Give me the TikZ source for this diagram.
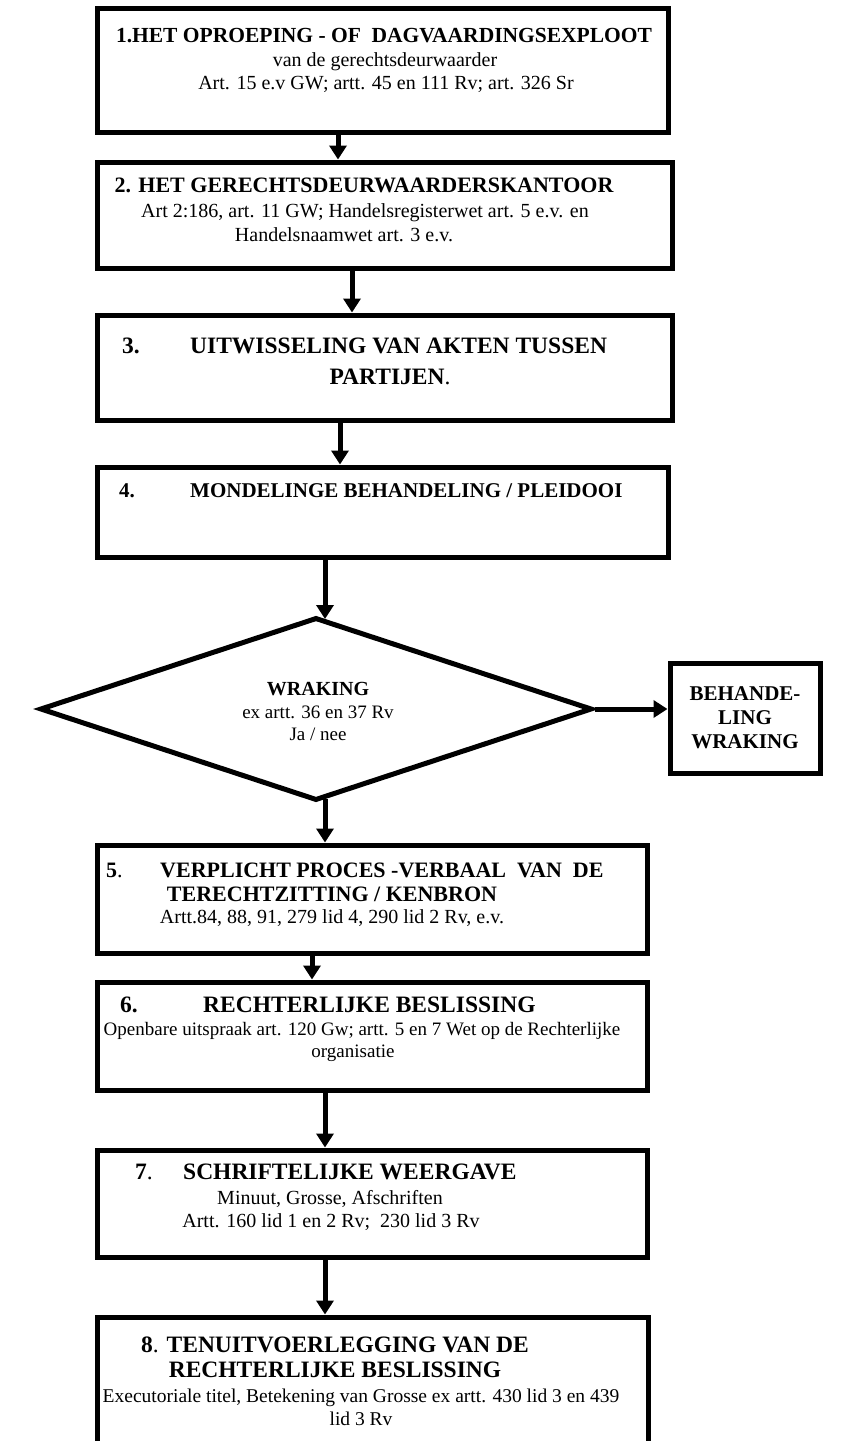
\documentclass[tikz,border=0pt]{standalone}
\usepackage{fontspec}
\setmainfont{Liberation Serif}
\usetikzlibrary{arrows.meta,shapes.geometric}

\tikzset{
    box/.style={draw, line width=5pt, inner sep=0pt},
    flow/.style={line width=5pt, -{Triangle[width=17pt,length=14pt]}},
    head/.style={font=\fontsize{22}{26}\selectfont\bfseries, inner sep=0pt, anchor=base},
    bighead/.style={head, font=\fontsize{23.5}{26}\selectfont\bfseries},
    txt/.style={font=\fontsize{20}{24}\selectfont, inner sep=0pt, anchor=base},
}

\begin{document}
\begin{tikzpicture}[x=1pt, y=-1pt]

    \clip (0,0) rectangle (849,1441);
    \fill[white] (0,0) rectangle (849,1441);

    % 1. Exploot
    \node[box, minimum width=571, minimum height=124] (b1) at (382.5,70) {};
    \node[head, font=\fontsize{21.5}{26}\selectfont\bfseries] (t1) at (384,42) {1.HET OPROEPING - OF\ \ DAGVAARDINGSEXPLOOT};
    \node[txt] (t1b) at (385,66) {van de gerechtsdeurwaarder};
    \node[txt] (t1c) at (386,89) {Art. 15 e.v GW; artt. 45 en 111 Rv; art. 326 Sr};

    % 2. Kantoor
    \node[box, minimum width=575, minimum height=106] (b2) at (384.5,215) {};
    \node[head] (t2) at (364,192) {2. HET GERECHTSDEURWAARDERSKANTOOR};
    \node[txt] (t2b) at (365,217) {Art 2:186, art. 11 GW; Handelsregisterwet art. 5 e.v. en};
    \node[txt] (t2c) at (344,241) {Handelsnaamwet art. 3 e.v.};

    % 3. Akten
    \node[box, minimum width=575, minimum height=105] (b3) at (384.5,367.5) {};
    \node[bighead, anchor=base west] (n3) at (122,353) {3.};
    \node[bighead, anchor=base west] (t3) at (190,353) {UITWISSELING VAN AKTEN TUSSEN};
    \node[bighead] (t3b) at (390,384) {PARTIJEN\textmd{.}};

    % 4. Pleidooi
    \node[box, minimum width=571, minimum height=90] (b4) at (382.5,512) {};
    \node[head, anchor=base west, font=\fontsize{21}{26}\selectfont\bfseries] (n4) at (119,497) {4.};
    \node[head, anchor=base west, font=\fontsize{21}{26}\selectfont\bfseries] (t4) at (190,497) {MONDELINGE BEHANDELING / PLEIDOOI};

    % Wraking
    \node[draw, diamond, line width=5pt, inner sep=0pt, minimum width=552, minimum height=183] (d) at (316,709) {};
    \node[head, font=\fontsize{20}{24}\selectfont\bfseries] (td) at (318,695) {WRAKING};
    \node[txt, font=\fontsize{19}{22}\selectfont] (tdb) at (318,718) {ex artt. 36 en 37 Rv};
    \node[txt, font=\fontsize{19}{22}\selectfont] (tdc) at (318,740) {Ja / nee};

    \node[box, minimum width=150, minimum height=110] (w) at (745,718) {};
    \node[head, align=center, anchor=center, font=\fontsize{21}{24}\selectfont\bfseries] (tw) at (745,718) {BEHANDE-\\LING\\WRAKING};

    % 5. Proces-verbaal
    \node[box, minimum width=550, minimum height=108] (b5) at (372,899) {};
    \node[head, anchor=base west] (n5) at (106,877) {5\textmd{.}};
    \node[head, anchor=base west] (t5) at (160,877) {VERPLICHT PROCES -VERBAAL\ \ VAN\ \ DE};
    \node[head] (t5b) at (332,901) {TERECHTZITTING / KENBRON};
    \node[txt] (t5c) at (332,923) {Artt.84, 88, 91, 279 lid 4, 290 lid 2 Rv, e.v.};

    % 6. Beslissing
    \node[box, minimum width=550, minimum height=108] (b6) at (372,1036) {};
    \node[bighead, anchor=base west] (n6) at (120,1012) {6.};
    \node[bighead, anchor=base west] (t6) at (203,1012) {RECHTERLIJKE BESLISSING};
    \node[txt, font=\fontsize{19}{24}\selectfont] (t6b) at (362,1035) {Openbare uitspraak art. 120 Gw; artt. 5 en 7 Wet op de Rechterlijke};
    \node[txt, font=\fontsize{19}{24}\selectfont] (t6c) at (353,1057) {organisatie};

    % 7. Weergave
    \node[box, minimum width=550, minimum height=107] (b7) at (372,1203.5) {};
    \node[bighead, anchor=base west] (n7) at (135,1179) {7\textmd{.}};
    \node[bighead, anchor=base west] (t7) at (183,1179) {SCHRIFTELIJKE WEERGAVE};
    \node[txt] (t7b) at (330,1204) {Minuut, Grosse, Afschriften};
    \node[txt] (t7c) at (331,1227) {Artt. 160 lid 1 en 2 Rv;\ \ 230 lid 3 Rv};

    % 8. Tenuitvoerlegging
    \node[box, minimum width=551, minimum height=143] (b8) at (372.5,1388.5) {};
    \node[bighead] (t8) at (335,1352) {8\textmd{.} TENUITVOERLEGGING VAN DE};
    \node[bighead] (t8b) at (335,1377) {RECHTERLIJKE BESLISSING};
    \node[txt, font=\fontsize{19.5}{24}\selectfont] (t8c) at (361,1402) {Executoriale titel, Betekening van Grosse ex artt. 430 lid 3 en 439};
    \node[txt, font=\fontsize{19.5}{24}\selectfont] (t8d) at (361,1425) {lid 3 Rv};

    % arrows
    \draw[flow] ([xshift=-44.5]b1.south) -- ([xshift=-44.5]b1.south |- b2.north);
    \draw[flow] ([xshift=-32.5]b2.south) -- ([xshift=-32.5]b2.south |- b3.north);
    \draw[flow] ([xshift=-44.5]b3.south) -- ([xshift=-44.5]b3.south |- b4.north);
    \draw[flow] ([xshift=-57.5]b4.south) -- ([xshift=9,yshift=-4]d.north);
    \draw[flow] (d.east) -- (d.east -| w.west);
    \draw[flow] ([xshift=9,yshift=4]d.south) -- ([xshift=9]d.south |- b5.north);
    \draw[flow] ([xshift=-60]b5.south) -- ([xshift=-60]b5.south |- b6.north);
    \draw[flow] ([xshift=-47]b6.south) -- ([xshift=-47]b6.south |- b7.north);
    \draw[flow] ([xshift=-47]b7.south) -- ([xshift=-47]b7.south |- b8.north);

\end{tikzpicture}
\end{document}
